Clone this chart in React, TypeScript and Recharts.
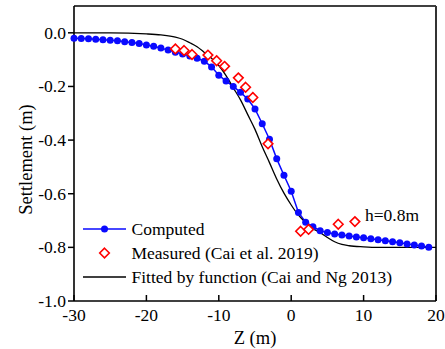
import React from 'react';
import { ComposedChart, Line, Scatter, XAxis, YAxis, ReferenceLine, Label } from 'recharts';

const computedZ = [-30, -29, -28, -27, -26, -25, -24, -23, -22, -21, -20, -19, -18, -17, -16, -15, -14, -13, -12, -11, -10, -9, -8, -7, -6, -5, -4, -3, -2, -1, 0, 1, 2, 3, 4, 5, 6, 7, 8, 9, 10, 11, 12, 13, 14, 15, 16, 17, 18, 19];
const computedS = [-0.020, -0.021, -0.022, -0.024, -0.026, -0.028, -0.030, -0.033, -0.036, -0.040, -0.045, -0.050, -0.057, -0.064, -0.072, -0.079, -0.086, -0.095, -0.106, -0.127, -0.158, -0.180, -0.200, -0.222, -0.247, -0.284, -0.339, -0.397, -0.470, -0.531, -0.591, -0.670, -0.706, -0.723, -0.738, -0.745, -0.750, -0.754, -0.758, -0.761, -0.764, -0.768, -0.772, -0.775, -0.779, -0.783, -0.787, -0.791, -0.795, -0.800];

const measuredZ = [-16, -14.8, -13.7, -11.5, -10.3, -9.2, -7.3, -6.3, -5.3, -3.2, 1.3, 2.4, 6.5, 8.8];
const measuredS = [-0.060, -0.066, -0.081, -0.083, -0.104, -0.125, -0.168, -0.203, -0.241, -0.414, -0.740, -0.733, -0.714, -0.704];

const fittedZ = [-30, -25, -20, -18, -16, -15, -14, -13, -12, -11, -10, -9, -8, -7, -6, -5, -4, -3, -2, -1, 0, 1, 2, 3, 4, 5, 6, 7, 8, 10, 12, 15, 20];
const fittedS = [0, 0, -0.004, -0.008, -0.016, -0.024, -0.037, -0.052, -0.073, -0.095, -0.122, -0.160, -0.205, -0.250, -0.305, -0.360, -0.425, -0.484, -0.545, -0.598, -0.642, -0.680, -0.708, -0.730, -0.745, -0.763, -0.779, -0.789, -0.794, -0.798, -0.800, -0.800, -0.800];

const xTicks = [-30, -20, -10, 0, 10, 20];
const yTicks = [-1.0, -0.8, -0.6, -0.4, -0.2, 0.0];

const legendLabels = ['Computed', 'Measured (Cai et al. 2019)', 'Fitted by function (Cai and Ng 2013)'];
const annotation = 'h=0.8m';

const computedData = computedZ.map((z, i) => ({ z, s: computedS[i] }));
const measuredData = measuredZ.map((z, i) => ({ z, s: measuredS[i] }));
const fittedData = fittedZ.map((z, i) => ({ z, s: fittedS[i] }));

const FONT = 'Liberation Serif, Times New Roman, serif';
const FS = 17.5;
const FS_TITLE = 18.5;
const BLUE = '#0a0aff';
const RED = '#ff0000';

const Diamond = (props: any) => {
  const { cx, cy } = props;
  if (cx == null || cy == null) return null;
  const r = 4.8;
  return (
    <path
      d={`M${cx},${cy - r}L${cx + r},${cy}L${cx},${cy + r}L${cx - r},${cy}Z`}
      fill="#fff"
      stroke={RED}
      strokeWidth={1.6}
    />
  );
};

const XTick = (props: any) => {
  const { x, y, payload } = props;
  return (
    <g>
      <line x1={x} x2={x} y1={y} y2={y - 6} stroke="#000" strokeWidth={1.5} />
      <text x={x} y={y + 20} textAnchor="middle" fontSize={FS} fill="#000" style={{ fontFamily: FONT }}>
        {payload.value}
      </text>
    </g>
  );
};

const YTick = (props: any) => {
  const { x, y, payload } = props;
  return (
    <text x={x} y={y} dy={6} textAnchor="end" fontSize={FS} fill="#000" style={{ fontFamily: FONT }}>
      {Number(payload.value).toFixed(1)}
    </text>
  );
};

const YLabel = (props: any) => {
  const { viewBox } = props;
  const cy = viewBox.y + viewBox.height / 2 + 6;
  const cx = 32;
  return (
    <text
      x={cx}
      y={cy}
      transform={`rotate(-90, ${cx}, ${cy})`}
      textAnchor="middle"
      fontSize={FS_TITLE}
      fill="#000"
      style={{ fontFamily: FONT }}
    >
      Settlement (m)
    </text>
  );
};

const XLabel = (props: any) => {
  const { viewBox } = props;
  const cx = viewBox.x + viewBox.width / 2;
  return (
    <text x={cx} y={344} textAnchor="middle" fontSize={FS_TITLE} fill="#000" style={{ fontFamily: FONT }}>
      Z (m)
    </text>
  );
};

const LegendBox = () => (
  <div
    style={{
      position: 'absolute',
      left: 83,
      top: 217,
      fontFamily: FONT,
      fontSize: FS,
      color: '#000',
    }}
  >
    {legendLabels.map((lab, i) => (
      <div key={lab} style={{ display: 'flex', alignItems: 'center', height: 24 }}>
        <svg width={48.5} height={24} style={{ display: 'block', flex: 'none' }}>
          {i === 0 && (
            <g>
              <line x1={0} x2={43} y1={12} y2={12} stroke={BLUE} strokeWidth={1.5} />
              <circle cx={21.5} cy={12} r={3.5} fill={BLUE} />
            </g>
          )}
          {i === 1 && <Diamond cx={21.5} cy={12} />}
          {i === 2 && <line x1={0} x2={43} y1={12} y2={12} stroke="#000" strokeWidth={1.3} />}
        </svg>
        <span style={{ whiteSpace: 'nowrap', lineHeight: '24px' }}>{lab}</span>
      </div>
    ))}
  </div>
);

export default function App() {
  return (
    <div style={{ position: 'absolute', left: 0, top: 0, width: 445, height: 349, background: '#fff' }}>
      <ComposedChart width={445} height={349} margin={{ top: 6, right: 9, left: 0, bottom: 0 }}>
        <XAxis
          dataKey="z"
          type="number"
          domain={[-30, 20]}
          ticks={xTicks}
          height={48}
          tickSize={0}
          tickMargin={0}
          tickLine={false}
          tick={<XTick />}
          axisLine={{ stroke: '#000', strokeWidth: 1.6 }}
          interval={0}
        >
          <Label content={<XLabel />} />
        </XAxis>
        <YAxis
          dataKey="s"
          type="number"
          domain={[-1.0, 0.1]}
          ticks={yTicks}
          width={74}
          tickSize={6}
          tickMargin={2}
          tickLine={{ stroke: '#000', strokeWidth: 1.5 }}
          axisLine={{ stroke: '#000', strokeWidth: 1.6 }}
          tick={<YTick />}
          interval={0}
        >
          <Label content={<YLabel />} />
        </YAxis>
        <ReferenceLine y={0.1} stroke="#000" strokeWidth={1.6} />
        <ReferenceLine x={20} stroke="#333" strokeWidth={2} />
        <Line
          data={computedData}
          dataKey="s"
          stroke={BLUE}
          strokeWidth={1.5}
          dot={{ r: 3.5, fill: BLUE, stroke: BLUE, strokeWidth: 0 }}
          isAnimationActive={false}
          type="linear"
        />
        <Line
          data={fittedData}
          dataKey="s"
          stroke="#000"
          strokeWidth={1.3}
          dot={false}
          isAnimationActive={false}
          type="monotone"
        />
        <Scatter data={measuredData} dataKey="s" shape={<Diamond />} isAnimationActive={false} />
      </ComposedChart>
      <LegendBox />
      <div
        style={{
          position: 'absolute',
          left: 365,
          top: 203,
          fontFamily: FONT,
          fontSize: FS,
          lineHeight: '24px',
          color: '#000',
          whiteSpace: 'nowrap',
        }}
      >
        {annotation}
      </div>
    </div>
  );
}
